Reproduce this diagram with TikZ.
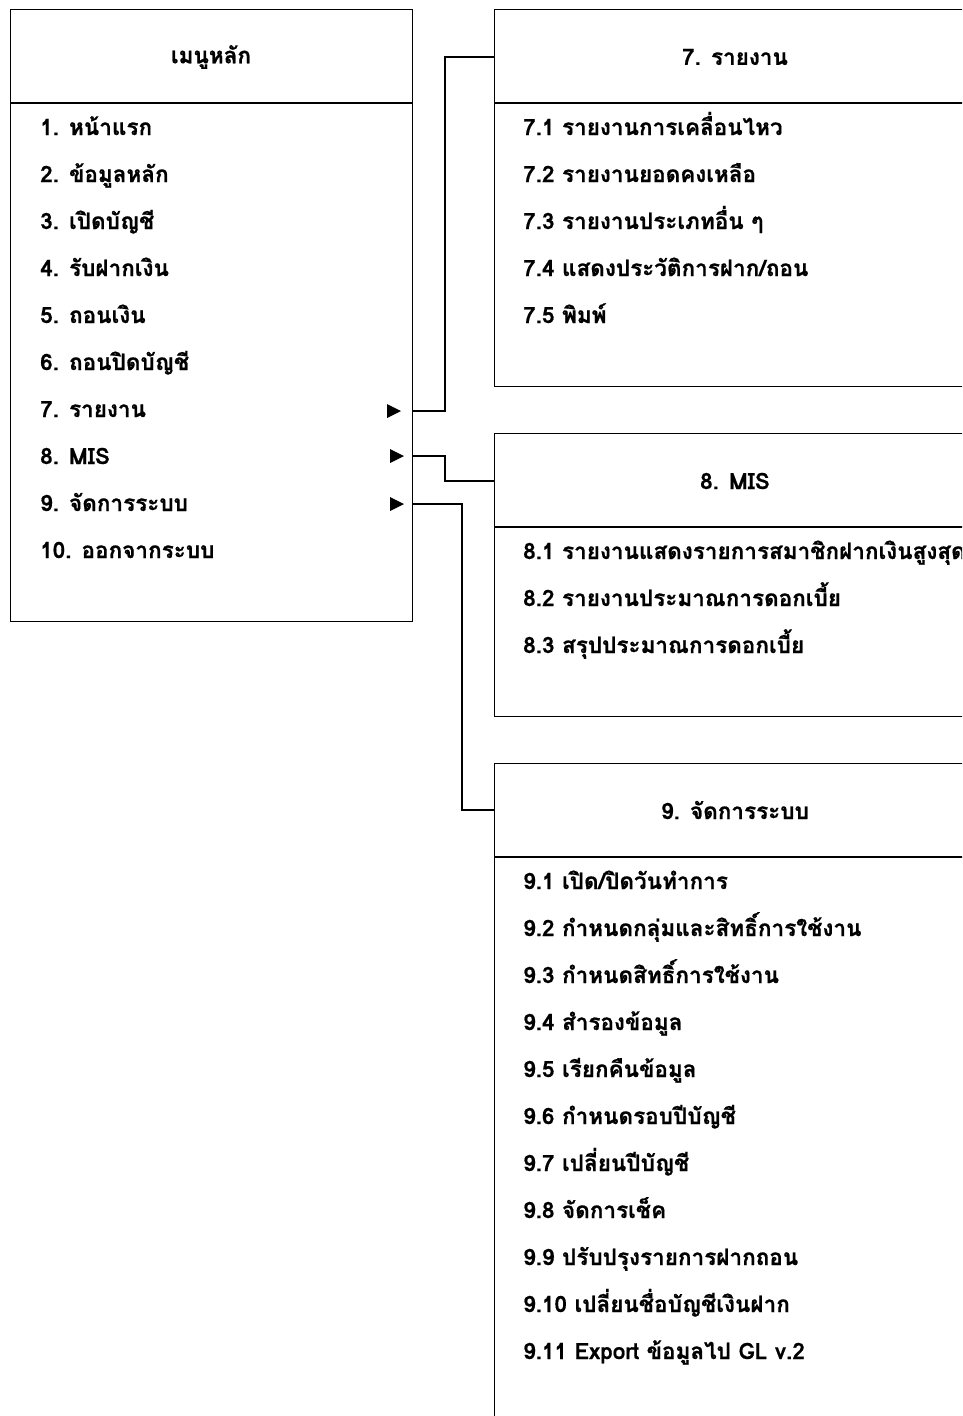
\documentclass[tikz,border=0pt]{standalone}
\usepackage{fontspec}
\newfontfamily\thaifont[Script=Thai,FakeBold=0.6]{Loma}
\usetikzlibrary{positioning}
\tikzset{
  menubox/.style={draw, line width=1.4pt, inner sep=0pt, anchor=north west},
  headline/.style={line width=1.4pt},
  link/.style={line width=1.3pt},
  titletext/.style={font=\thaifont\bfseries\fontsize{22.5}{25}\selectfont},
  itemtext/.style={font=\thaifont\bfseries\fontsize{22.5}{25}\selectfont, anchor=west,
    inner sep=0pt, text height=15pt, text depth=5pt}
}
\begin{document}
\begin{tikzpicture}[x=1pt,y=-1pt]
  \useasboundingbox (0,0) rectangle (962,1416);
  \clip (0,0) rectangle (962,1416);
  \fill[white] (0,0) rectangle (962,1416);
  % main menu
  \node[menubox, minimum width=402, minimum height=612] (menu) at (10,9) {};
  \draw[headline] (10,103) -- (412,103);
  \node[titletext] (menutitle) at (211,57) {เมนูหลัก};
  \foreach \t [count=\i] in {1. หน้าแรก, 2. ข้อมูลหลัก, 3. เปิดบัญชี, 4. รับฝากเงิน,
      5. ถอนเงิน, 6. ถอนปิดบัญชี, 7. รายงาน, 8. MIS, 9. จัดการระบบ, 10. ออกจากระบบ}
    \node[itemtext] (menu\i) at (40,83+47*\i) {\t};
  \fill (387,404) -- (401,411) -- (387,418) -- cycle;
  \fill (390,449) -- (404,456) -- (390,463) -- cycle;
  \fill (390,497) -- (404,504) -- (390,511) -- cycle;
  % 7. report
  \node[menubox, minimum width=482, minimum height=377] (rep) at (494,9) {};
  \draw[headline] (494,103) -- (976,103);
  \node[titletext] (reptitle) at (735,57) {7. รายงาน};
  \foreach \t [count=\i] in {7.1 รายงานการเคลื่อนไหว, 7.2 รายงานยอดคงเหลือ,
      7.3 รายงานประเภทอื่น ๆ, 7.4 แสดงประวัติการฝาก/ถอน, 7.5 พิมพ์}
    \node[itemtext] (rep\i) at (523,83+47*\i) {\t};
  % 8. MIS
  \node[menubox, minimum width=482, minimum height=283] (mis) at (494,433) {};
  \draw[headline] (494,527) -- (976,527);
  \node[titletext] (mistitle) at (735,481) {8. MIS};
  \foreach \t [count=\i] in {8.1 รายงานแสดงรายการสมาชิกฝากเงินสูงสุด,
      8.2 รายงานประมาณการดอกเบี้ย, 8.3 สรุปประมาณการดอกเบี้ย}
    \node[itemtext] (mis\i) at (523,507+47*\i) {\t};
  % 9. system
  \node[menubox, minimum width=482, minimum height=700] (sys) at (494,763) {};
  \draw[headline] (494,857) -- (976,857);
  \node[titletext] (systitle) at (735,810) {9. จัดการระบบ};
  \foreach \t [count=\i] in {9.1 เปิด/ปิดวันทำการ, 9.2 กำหนดกลุ่มและสิทธิ์การใช้งาน,
      9.3 กำหนดสิทธิ์การใช้งาน, 9.4 สำรองข้อมูล, 9.5 เรียกคืนข้อมูล,
      9.6 กำหนดรอบปีบัญชี, 9.7 เปลี่ยนปีบัญชี, 9.8 จัดการเช็ค,
      9.9 ปรับปรุงรายการฝากถอน, 9.10 เปลี่ยนชื่อบัญชีเงินฝาก, 9.11 Export ข้อมูลไป GL v.2}
    \node[itemtext] (sys\i) at (523,837+47*\i) {\t};
  % connectors
  \draw[link] (412,411) -- ++(33,0) |- (rep.west |- reptitle);
  \draw[link] (412,456) -- ++(33,0) |- (mis.west |- mistitle);
  \draw[link] (412,504) -- ++(50,0) |- (sys.west |- systitle);
\end{tikzpicture}
\end{document}
